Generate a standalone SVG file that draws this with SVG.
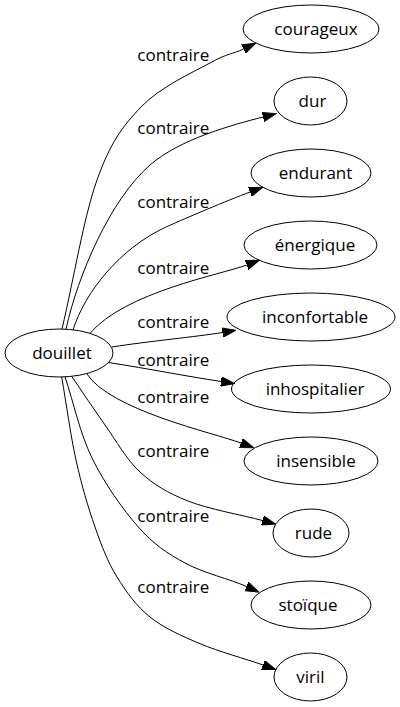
<svg xmlns="http://www.w3.org/2000/svg" width="400" height="707" viewBox="0 0 400 707">
<style>
.node ellipse{fill:none;stroke:#000;stroke-width:1}
text{font-family:"Open Sans","Liberation Sans",sans-serif;font-size:17px;fill:#000;text-anchor:middle}
.edges path{fill:none;stroke:#000;stroke-width:1;marker-end:url(#arr)}
</style>
<defs>
<marker id="arr" markerUnits="userSpaceOnUse" viewBox="0 -5 14 10" markerWidth="14" markerHeight="10" refX="0" refY="0" orient="auto">
<polygon points="0,-4.7 13.5,0 0,4.7" fill="#000" stroke="#000" stroke-width="1"/>
</marker>
</defs>
<rect width="400" height="707" fill="#fff"/>
<g class="edges" id="edges">
<path d="M62,329 C73.7,279.3 83.8,217 97,180 C110.2,143 122.2,126.7 141,107 C159.8,87.3 192.9,72.2 210,63 C227.1,53.3 233,54 243.5,49"/>
<path d="M66,329 C78,275 110,200 150,165 C180,139 232,125 263,117"/>
<path d="M73,330 C85,292 120,248 166.7,226.7 C186,218 226.6,200.8 250,192"/>
<path d="M90,333.4 C125,292 221.4,274.5 246.7,265"/>
<path d="M112,347 C150,341 195,337 222.5,332.5"/>
<path d="M108.5,362.5 C150,369 185,376 221,381.5"/>
<path d="M86.7,373.6 C110,410 212.8,432.7 241,443"/>
<path d="M71.7,376.3 C82.8,392.5 93.6,409 105,425 C116.4,441 126.2,459.3 140,472 C153.8,484.7 167.6,492.9 188,501 C208.4,509.1 243.2,515.3 262.5,520.5"/>
<path d="M65,376.8 C74,403.9 79.8,433 92,458 C104.2,483 122.8,509.5 138.3,527 C153.8,544.5 167,553.1 185,563 C203,572.9 230.1,579.1 246.5,586.5"/>
<path d="M61.7,377 C66.5,404.7 70.5,435 76,460 C81.5,485 88.2,507.5 95,527 C101.8,546.5 107.8,562 117,577 C126.2,592 136.2,605.9 150,617 C163.8,628.1 181.2,635.7 200,643.7 C218.8,651.7 246.1,658.9 263,665"/>
<text x="173.3" y="61">contraire</text>
<text x="173.3" y="134">contraire</text>
<text x="173.3" y="208">contraire</text>
<text x="173.3" y="274">contraire</text>
<text x="173.3" y="328">contraire</text>
<text x="173.3" y="366">contraire</text>
<text x="173.3" y="403">contraire</text>
<text x="173.3" y="457">contraire</text>
<text x="173.3" y="522">contraire</text>
<text x="173.3" y="593">contraire</text>
</g>
<g class="node" id="n_douillet"><ellipse cx="59" cy="353" rx="54" ry="24"/><text x="62" y="359">douillet</text></g>
<g class="node" id="n_courageux"><ellipse cx="311" cy="29" rx="68" ry="24"/><text x="316" y="35">courageux</text></g>
<g class="node" id="n_dur"><ellipse cx="310.5" cy="101" rx="36.5" ry="24"/><text x="312.5" y="107">dur</text></g>
<g class="node" id="n_endurant"><ellipse cx="311" cy="173" rx="60" ry="24"/><text x="315.5" y="179">endurant</text></g>
<g class="node" id="n_energique"><ellipse cx="310.5" cy="245" rx="66.5" ry="24"/><text x="315" y="251">énergique</text></g>
<g class="node" id="n_inconfortable"><ellipse cx="311" cy="317" rx="84" ry="24"/><text x="315" y="323">inconfortable</text></g>
<g class="node" id="n_inhospitalier"><ellipse cx="311" cy="389" rx="79.5" ry="24"/><text x="315" y="395">inhospitalier</text></g>
<g class="node" id="n_insensible"><ellipse cx="311" cy="461" rx="67" ry="24"/><text x="316" y="467">insensible</text></g>
<g class="node" id="n_rude"><ellipse cx="311" cy="533" rx="38" ry="24"/><text x="313.5" y="539">rude</text></g>
<g class="node" id="n_stoique"><ellipse cx="311" cy="605" rx="60" ry="24"/><text x="308" y="611">stoïque</text></g>
<g class="node" id="n_viril"><ellipse cx="310.5" cy="677" rx="36.5" ry="24"/><text x="310.5" y="683">viril</text></g>
</svg>
